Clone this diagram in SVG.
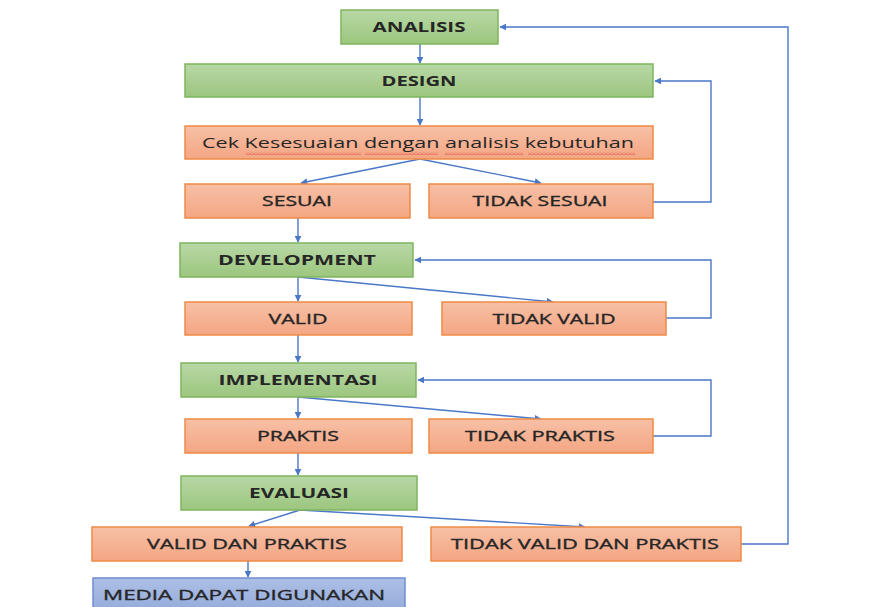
<svg xmlns="http://www.w3.org/2000/svg" width="879" height="607" viewBox="0 0 879 607">
<style>
.g{fill:url(#gg);stroke:#7fb55f;stroke-width:1.5}
.o{fill:url(#og);stroke:#ef8a45;stroke-width:1.5}
.b{fill:url(#bg);stroke:#6d8fd0;stroke-width:1.5}
text{font-family:"Open Sans","DejaVu Sans",sans-serif;font-size:14px;fill:#262626;text-anchor:middle;font-weight:normal;stroke:#262626;stroke-width:0.35}
.tb{font-weight:bold;stroke:none}
.tn{stroke:none}
.c{stroke:#4a77c8;stroke-width:1.4;fill:none}
</style>
<defs>
<linearGradient id="gg" x1="0" y1="0" x2="0" y2="1"><stop offset="0" stop-color="#b8d8a6"/><stop offset="1" stop-color="#9cc67e"/></linearGradient>
<linearGradient id="og" x1="0" y1="0" x2="0" y2="1"><stop offset="0" stop-color="#f7c0a6"/><stop offset="1" stop-color="#f4a683"/></linearGradient>
<linearGradient id="bg" x1="0" y1="0" x2="0" y2="1"><stop offset="0" stop-color="#adbfe5"/><stop offset="1" stop-color="#8fa7d9"/></linearGradient>
<marker id="ar" viewBox="0 0 10 10" refX="9" refY="5" markerWidth="7" markerHeight="7" markerUnits="userSpaceOnUse" orient="auto"><path d="M0 0 L10 5 L0 10 z" fill="#4a77c8"/></marker>
<pattern id="wavy" width="4" height="3" patternUnits="userSpaceOnUse"><path d="M0 2.5 L2 0.5 L4 2.5" stroke="#e04040" fill="none" stroke-width="0.8"/></pattern>
</defs>

<g id="connectors">
<path class="c" d="M420 44 V63" marker-end="url(#ar)"/>
<path class="c" d="M420 97 V125" marker-end="url(#ar)"/>
<path class="c" d="M420 159 L301 183" marker-end="url(#ar)"/>
<path class="c" d="M420 159 L541 183" marker-end="url(#ar)"/>
<path class="c" d="M653 202 H711 V81 H655" marker-end="url(#ar)"/>
<path class="c" d="M298 218 V242" marker-end="url(#ar)"/>
<path class="c" d="M298 277 V301" marker-end="url(#ar)"/>
<path class="c" d="M298 277 L553 302" marker-end="url(#ar)"/>
<path class="c" d="M666 318 H711 V260 H415" marker-end="url(#ar)"/>
<path class="c" d="M298 335 V362" marker-end="url(#ar)"/>
<path class="c" d="M298 397 V418" marker-end="url(#ar)"/>
<path class="c" d="M298 397 L541 419" marker-end="url(#ar)"/>
<path class="c" d="M653 436 H711 V380 H418" marker-end="url(#ar)"/>
<path class="c" d="M298 453 V475" marker-end="url(#ar)"/>
<path class="c" d="M300 510 L249 526" marker-end="url(#ar)"/>
<path class="c" d="M300 510 L585 527" marker-end="url(#ar)"/>
<path class="c" d="M741 544 H788 V27 H500" marker-end="url(#ar)"/>
<path class="c" d="M248 561 V577" marker-end="url(#ar)"/>
</g>

<g id="analisis"><rect class="g" x="341" y="10" width="157" height="34"/><text class="tb" x="419" y="32" textLength="93" lengthAdjust="spacingAndGlyphs">ANALISIS</text></g>
<g id="design"><rect class="g" x="185" y="64" width="468" height="33"/><text class="tb" x="419" y="86" textLength="75" lengthAdjust="spacingAndGlyphs">DESIGN</text></g>
<g id="cek"><rect class="o" x="185" y="126" width="468" height="33"/><text class="tn" x="418" y="148" textLength="432" lengthAdjust="spacingAndGlyphs" style="font-size:15px">Cek Kesesuaian dengan analisis kebutuhan</text>
<rect x="246" y="152" width="115" height="3" fill="url(#wavy)"/><rect x="365" y="152" width="73" height="3" fill="url(#wavy)"/><rect x="445" y="152" width="78" height="3" fill="url(#wavy)"/><rect x="528" y="152" width="107" height="3" fill="url(#wavy)"/></g>
<g id="sesuai"><rect class="o" x="185" y="184" width="225" height="34"/><text x="297" y="206" textLength="70" lengthAdjust="spacingAndGlyphs">SESUAI</text></g>
<g id="tidak-sesuai"><rect class="o" x="429" y="184" width="224" height="34"/><text x="540" y="206" textLength="135" lengthAdjust="spacingAndGlyphs">TIDAK SESUAI</text></g>
<g id="development"><rect class="g" x="180" y="243" width="233" height="34"/><text class="tb" x="297" y="265" textLength="158" lengthAdjust="spacingAndGlyphs">DEVELOPMENT</text></g>
<g id="valid"><rect class="o" x="185" y="302" width="227" height="33"/><text x="298" y="324" textLength="59" lengthAdjust="spacingAndGlyphs">VALID</text></g>
<g id="tidak-valid"><rect class="o" x="442" y="302" width="224" height="33"/><text x="554" y="324" textLength="123" lengthAdjust="spacingAndGlyphs">TIDAK VALID</text></g>
<g id="implementasi"><rect class="g" x="181" y="363" width="235" height="34"/><text class="tb" x="298" y="385" textLength="159" lengthAdjust="spacingAndGlyphs">IMPLEMENTASI</text></g>
<g id="praktis"><rect class="o" x="185" y="419" width="227" height="34"/><text x="298" y="441" textLength="82" lengthAdjust="spacingAndGlyphs">PRAKTIS</text></g>
<g id="tidak-praktis"><rect class="o" x="429" y="419" width="224" height="34"/><text x="540" y="441" textLength="150" lengthAdjust="spacingAndGlyphs">TIDAK PRAKTIS</text></g>
<g id="evaluasi"><rect class="g" x="181" y="476" width="236" height="34"/><text class="tb" x="299" y="498" textLength="100" lengthAdjust="spacingAndGlyphs">EVALUASI</text></g>
<g id="valid-dan-praktis"><rect class="o" x="92" y="527" width="310" height="34"/><text x="247" y="549" textLength="200" lengthAdjust="spacingAndGlyphs">VALID DAN PRAKTIS</text></g>
<g id="tidak-valid-dan-praktis"><rect class="o" x="431" y="527" width="310" height="34"/><text x="585" y="549" textLength="268" lengthAdjust="spacingAndGlyphs">TIDAK VALID DAN PRAKTIS</text></g>
<g id="media"><rect class="b" x="93" y="578" width="312" height="40"/><text x="244" y="600" textLength="282" lengthAdjust="spacingAndGlyphs">MEDIA DAPAT DIGUNAKAN</text></g>
</svg>
